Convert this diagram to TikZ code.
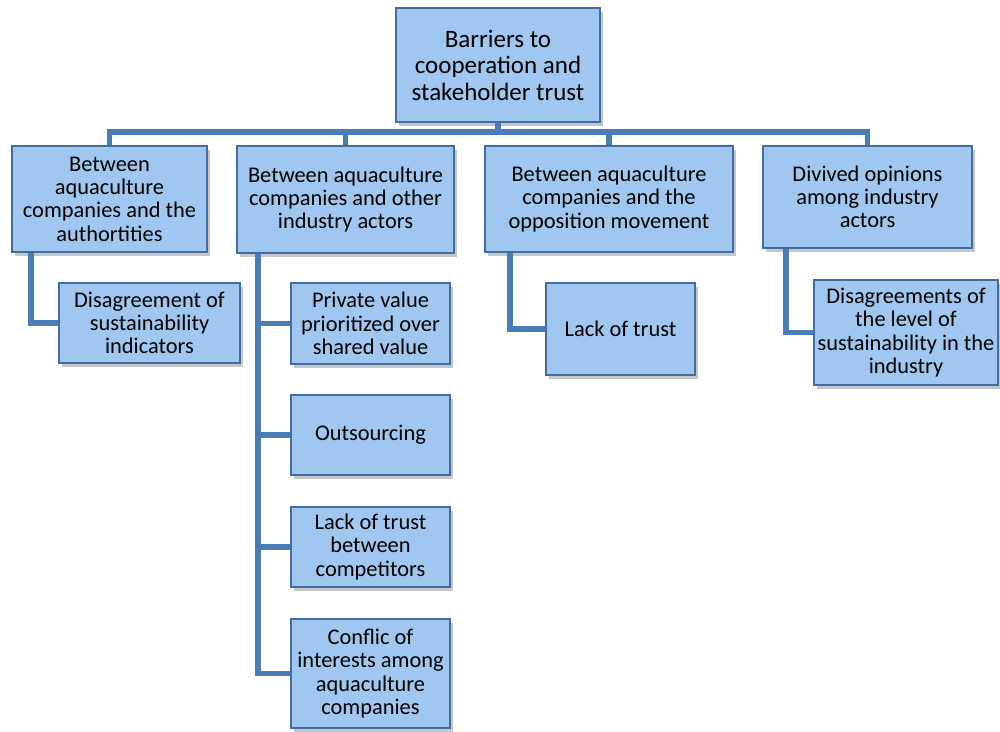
\documentclass[tikz,border=0pt]{standalone}
\usepackage{fontspec}
\setmainfont{Carlito}
\usepackage{tikz}
\usetikzlibrary{shadows}
\definecolor{boxfill}{RGB}{160,199,240}
\definecolor{boxline}{RGB}{66,108,164}
\definecolor{linkblue}{RGB}{74,124,184}
\tikzset{box/.style={draw=boxline, line width=1.8pt, fill=boxfill, align=center, inner sep=0pt,
		drop shadow={opacity=0.45, shadow xshift=2.5pt, shadow yshift=-4pt},
		font=\fontsize{22.4}{23.3}\selectfont},
	link/.style={draw=linkblue, line width=5.5pt}}

\begin{document}
\begin{tikzpicture}[x=1pt, y=-1pt]
		\useasboundingbox (0,0) rectangle (1000,731);
		\node(top)[box, minimum width=204, minimum height=114, font=\fontsize{25}{26.5}\selectfont] at (498,65){Barriers to\\cooperation and\\stakeholder trust};
		\node(auth)[box, minimum width=195, minimum height=106] at (109.5,199){Between\\aquaculture\\companies and the\\authortities};
		\node(actors)[box, minimum width=217, minimum height=107] at (345.5,199.5){Between aquaculture\\companies and other\\industry actors};
		\node(oppos)[box, minimum width=248, minimum height=106] at (609,199){Between aquaculture\\companies and the\\opposition movement};
		\node(divided)[box, minimum width=209, minimum height=102] at (867.5,197){Divived opinions\\among industry\\actors};
		\node(indic)[box, minimum width=181, minimum height=80] at (149.5,323){Disagreement of\\sustainability\\indicators};
		\node(private)[box, minimum width=159, minimum height=81] at (370.5,323.5){Private value\\prioritized over\\shared value};
		\node(outsrc)[box, minimum width=159, minimum height=80] at (370.5,435){Outsourcing};
		\node(compet)[box, minimum width=159, minimum height=80] at (370.5,547){Lack of trust\\between\\competitors};
		\node(conflic)[box, minimum width=159, minimum height=109] at (370.5,673.5){Conflic of\\interests among\\aquaculture\\companies};
		\node(notrust)[box, minimum width=149, minimum height=92] at (620.5,329){Lack of trust};
		\node(level)[box, minimum width=184, minimum height=105] at (906,332.5){Disagreements of\\the level of\\sustainability in the\\industry};
		\draw[link](top.south) -- ++(0,9) -| (auth.north);
		\draw[link](top.south) -- ++(0,9) -| (actors.north);
		\draw[link](top.south) -- ++(0,9) -| (oppos.north);
		\draw[link](top.south) -- ++(0,9) -| (divided.north);
		\draw[link]([xshift=20pt]auth.south west) |- (indic.west);
		\draw[link]([xshift=22pt]actors.south west) |- (conflic.west);
		\draw[link]([xshift=22pt]actors.south west) |- (private.west);
		\draw[link]([xshift=22pt]actors.south west) |- (outsrc.west);
		\draw[link]([xshift=22pt]actors.south west) |- (compet.west);
		\draw[link]([xshift=26pt]oppos.south west) |- (notrust.west);
		\draw[link]([xshift=24pt]divided.south west) |- (level.west);
	\end{tikzpicture}
\end{document}
